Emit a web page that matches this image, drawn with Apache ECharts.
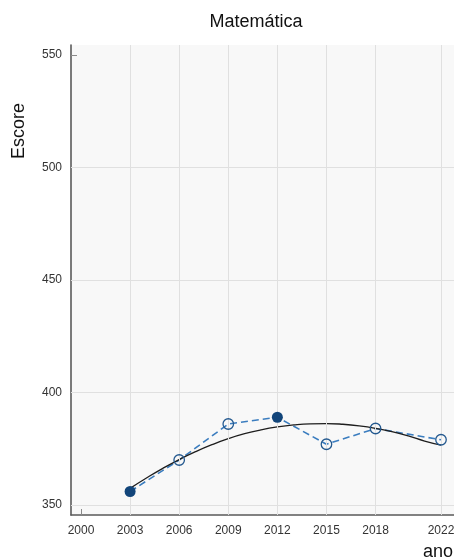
<!DOCTYPE html>
<html>
<head>
<meta charset="utf-8">
<title>Matemática</title>
<script src="https://cdn.jsdelivr.net/npm/echarts@6/dist/echarts.min.js"></script>
<style>
  html, body { margin: 0; padding: 0; background: #ffffff; }
  #chart { width: 454px; height: 558px; }
</style>
</head>
<body>
<div id="chart"></div>
<script>
// PISA scores by edition
const years = [2003, 2006, 2009, 2012, 2015, 2018, 2022];
const scores = [356, 370, 386, 389, 377, 384, 379];
// editions drawn with a filled marker
const filled = [true, false, false, true, false, false, false];

// fitted trend curve, sampled yearly
const trendYears = [2003, 2004, 2005, 2006, 2007, 2008, 2009, 2010, 2011, 2012,
                    2013, 2014, 2015, 2016, 2017, 2018, 2019, 2020, 2021, 2022];
const trendValues = [357.4, 362.0, 366.3, 370.2, 373.7, 376.8, 379.5, 381.7, 383.4, 384.7,
                     385.6, 386.1, 386.2, 385.9, 385.2, 384.1, 382.6, 380.7, 378.4, 376.6];

// axis ticks and grid lines
const xTicks = [2000, 2003, 2006, 2009, 2012, 2015, 2018, 2022];
const xGrid = [2003, 2006, 2009, 2012, 2015, 2018, 2022];
const yTicks = [350, 400, 450, 500, 550];
const yGrid = [350, 400, 450, 500];

const chart = echarts.init(document.getElementById('chart'), null, { renderer: 'canvas' });

const pairs = (xs, ys) => xs.map((x, i) => [x, ys[i]]);
const openPts = years.map((y, i) => [y, scores[i]]).filter((_, i) => !filled[i]);
const filledPts = years.map((y, i) => [y, scores[i]]).filter((_, i) => filled[i]);

const font = "'Liberation Sans', Arial, Helvetica, sans-serif";

chart.setOption({
  animation: false,
  backgroundColor: '#ffffff',
  grid: {
    left: 71, right: 0, top: 45, bottom: 43,
    outerBoundsMode: 'none', containLabel: false,
    show: true, backgroundColor: '#f8f8f8', borderWidth: 0
  },
  xAxis: {
    type: 'value',
    min: 1999.389, max: 2022.794,
    axisLine: { show: true, onZero: false, lineStyle: { color: '#5a5a5a', width: 1.6 } },
    axisTick: { show: true, inside: true, length: 6, customValues: xTicks, lineStyle: { color: '#8a8a8a', width: 1 } },
    axisLabel: { customValues: xTicks, color: '#333333', fontSize: 12, fontFamily: font, margin: 10, formatter: v => String(v) },
    splitLine: { show: false }
  },
  yAxis: {
    type: 'value',
    min: 345.56, max: 554.44,
    axisLine: { show: true, onZero: false, lineStyle: { color: '#5a5a5a', width: 1.6 } },
    axisTick: { show: true, inside: true, length: 6, customValues: yTicks, lineStyle: { color: '#8a8a8a', width: 1 } },
    axisLabel: { customValues: yTicks, color: '#333333', fontSize: 12, fontFamily: font, margin: 9 },
    splitLine: { show: false }
  },
  graphic: [
    { type: 'text', x: 256, y: 22, style: { text: 'Matemática', fill: '#111111', font: '18px ' + font, textAlign: 'center', textVerticalAlign: 'middle' } },
    { type: 'text', x: 19, y: 131, rotation: Math.PI / 2, style: { text: 'Escore', fill: '#111111', font: '18px ' + font, textAlign: 'center', textVerticalAlign: 'middle' } },
    { type: 'text', x: 423, y: 552, style: { text: 'ano', fill: '#111111', font: '18px ' + font, textAlign: 'left', textVerticalAlign: 'middle' } }
  ],
  series: [
    {
      // grid lines
      type: 'line', data: [], silent: true,
      markLine: {
        silent: true, symbol: ['none', 'none'], label: { show: false },
        lineStyle: { color: '#e0e0e0', width: 1, type: 'solid' },
        emphasis: { disabled: true },
        data: xGrid.map(v => ({ xAxis: v })).concat(yGrid.map(v => ({ yAxis: v })))
      }
    },
    {
      type: 'line', data: pairs(years, scores), showSymbol: false, silent: true,
      lineStyle: { color: '#3b7dbf', width: 1.6, type: [7, 4] }, z: 3
    },
    {
      type: 'line', data: pairs(trendYears, trendValues), smooth: true, showSymbol: false, silent: true,
      lineStyle: { color: '#1e1e1e', width: 1.3 }, z: 4
    },
    {
      type: 'scatter', data: openPts, symbol: 'circle', symbolSize: 10.5, silent: true,
      itemStyle: { color: 'rgba(255,255,255,0)', borderColor: '#24598f', borderWidth: 1.3, opacity: 1 }, z: 5
    },
    {
      type: 'scatter', data: filledPts, symbol: 'circle', symbolSize: 11, silent: true,
      itemStyle: { color: '#12457a', opacity: 1 }, z: 5
    }
  ]
});
</script>
</body>
</html>
